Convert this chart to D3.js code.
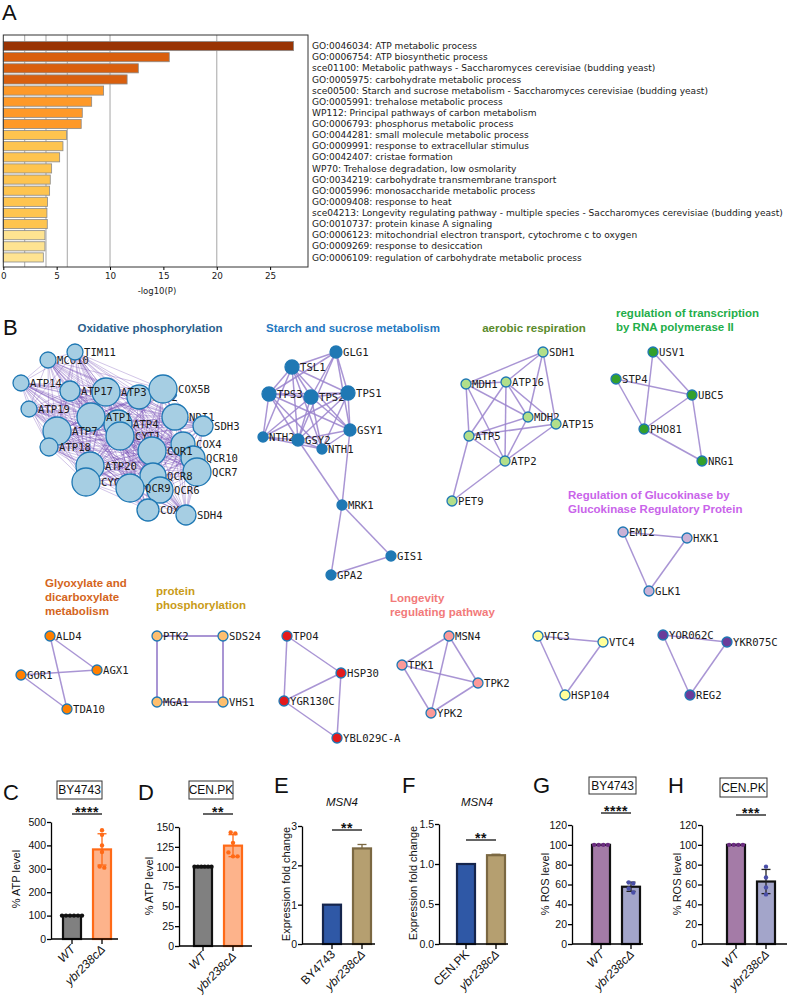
<!DOCTYPE html>
<html>
<head>
<meta charset="utf-8">
<script src="https://cdn.jsdelivr.net/npm/d3@7"></script>
<style>
  body { margin: 0; background: #fff; }
  svg { display: block; }
</style>
</head>
<body>
<div id="container"></div>
<script>
let w = 787;
let h = 997;
let sans = "'Liberation Sans', Arial, sans-serif";
let mono = "'DejaVu Sans Mono', monospace";

// ---------- PANEL A DATA (Metascape enrichment) ----------
let goTerms = [
  "GO:0046034: ATP metabolic process",
  "GO:0006754: ATP biosynthetic process",
  "sce01100: Metabolic pathways - Saccharomyces cerevisiae (budding yeast)",
  "GO:0005975: carbohydrate metabolic process",
  "sce00500: Starch and sucrose metabolism - Saccharomyces cerevisiae (budding yeast)",
  "GO:0005991: trehalose metabolic process",
  "WP112: Principal pathways of carbon metabolism",
  "GO:0006793: phosphorus metabolic process",
  "GO:0044281: small molecule metabolic process",
  "GO:0009991: response to extracellular stimulus",
  "GO:0042407: cristae formation",
  "WP70: Trehalose degradation, low osmolarity",
  "GO:0034219: carbohydrate transmembrane transport",
  "GO:0005996: monosaccharide metabolic process",
  "GO:0009408: response to heat",
  "sce04213: Longevity regulating pathway - multiple species - Saccharomyces cerevisiae (budding yeast)",
  "GO:0010737: protein kinase A signaling",
  "GO:0006123: mitochondrial electron transport, cytochrome c to oxygen",
  "GO:0009269: response to desiccation",
  "GO:0006109: regulation of carbohydrate metabolic process"
];
let goLogP = [27.2, 15.55, 12.65, 11.6, 9.4, 8.28, 7.4, 7.3, 5.93, 5.59,
              5.28, 4.53, 4.4, 4.34, 4.15, 4.09, 4.12, 3.9, 3.9, 3.75];
let pCuts = [2, 4, 6, 10, 20];
let xTicksA = [0, 5, 10, 15, 20, 25];

// ---------- PANEL B DATA (MCODE networks) ----------
let oxphosGenes = ["MCO10","TIM11","ATP14","QCR2","ATP3","ATP17","COX5B","ATP19","NDI1","SDH3",
  "ATP4","CYT1","ATP1","ATP7","ATP18","COX4","QCR10","COR1","QCR7","ATP20","CYC1","QCR8",
  "QCR6","QCR9","COX6","SDH4"];
let starchGenes = ["GLG1","TSL1","TPS3","TPS2","TPS1","GSY1","NTH2","GSY2","NTH1","MRK1","GIS1","GPA2"];
let starchEdges = [
  ["TSL1","GLG1"],["TSL1","TPS3"],["TSL1","TPS2"],["TSL1","TPS1"],["TSL1","GSY1"],["TSL1","NTH2"],
  ["TSL1","GSY2"],["TSL1","NTH1"],["GLG1","TPS3"],["GLG1","TPS2"],["GLG1","TPS1"],["GLG1","GSY1"],
  ["GLG1","GSY2"],["TPS3","TPS2"],["TPS3","TPS1"],["TPS3","NTH2"],["TPS3","GSY2"],["TPS3","NTH1"],
  ["TPS3","GSY1"],["TPS2","TPS1"],["TPS2","NTH2"],["TPS2","GSY2"],["TPS2","NTH1"],["TPS2","GSY1"],
  ["TPS1","GSY1"],["TPS1","NTH2"],["TPS1","GSY2"],["TPS1","NTH1"],["NTH2","GSY2"],["NTH2","NTH1"],
  ["GSY2","NTH1"],["GSY2","GSY1"],["NTH1","GSY1"],["GSY2","MRK1"],["GSY1","MRK1"],["MRK1","GIS1"],
  ["MRK1","GPA2"],["GPA2","GIS1"]
];
let aerobicGenes = ["SDH1","MDH1","ATP16","MDH2","ATP15","ATP5","ATP2","PET9"];
let aerobicEdges = [
  ["MDH1","ATP16"],["MDH1","ATP5"],["MDH1","ATP2"],["MDH1","MDH2"],["MDH1","SDH1"],["ATP16","SDH1"],
  ["ATP16","ATP5"],["ATP16","ATP2"],["ATP16","MDH2"],["ATP16","ATP15"],["SDH1","MDH2"],["SDH1","ATP15"],
  ["ATP5","MDH2"],["ATP5","ATP15"],["ATP5","ATP2"],["ATP2","MDH2"],["ATP2","ATP15"],["ATP5","PET9"],
  ["ATP2","PET9"]
];
let rnaPolGenes = ["USV1","STP4","UBC5","PHO81","NRG1"];
let rnaPolEdges = [["USV1","UBC5"],["USV1","PHO81"],["STP4","UBC5"],["STP4","PHO81"],["UBC5","PHO81"],
  ["UBC5","NRG1"],["PHO81","NRG1"]];
let glkGenes = ["EMI2","HXK1","GLK1"];
let glkEdges = [["EMI2","HXK1"],["EMI2","GLK1"],["HXK1","GLK1"]];
let glyoxGenes = ["ALD4","AGX1","GOR1","TDA10"];
let glyoxEdges = [["ALD4","AGX1"],["ALD4","TDA10"],["GOR1","AGX1"],["GOR1","TDA10"]];
let phosGenes = ["PTK2","SDS24","MGA1","VHS1"];
let phosEdges = [["PTK2","SDS24"],["SDS24","VHS1"],["VHS1","MGA1"],["MGA1","PTK2"]];
let tpoGenes = ["TPO4","HSP30","YGR130C","YBL029C-A"];
let tpoEdges = [["TPO4","HSP30"],["TPO4","YGR130C"],["HSP30","YGR130C"],["HSP30","YBL029C-A"],["YGR130C","YBL029C-A"]];
let longevGenes = ["MSN4","TPK1","TPK2","YPK2"];
let longevEdges = [["MSN4","TPK1"],["MSN4","TPK2"],["MSN4","YPK2"],["TPK1","TPK2"],["TPK1","YPK2"],["TPK2","YPK2"]];
let vtcGenes = ["VTC3","VTC4","HSP104"];
let vtcEdges = [["VTC3","VTC4"],["VTC3","HSP104"],["VTC4","HSP104"]];
let yorGenes = ["YOR062C","YKR075C","REG2"];
let yorEdges = [["YOR062C","YKR075C"],["YOR062C","REG2"],["YKR075C","REG2"]];

// ---------- PANELS C-H DATA ----------
let strains = ["WT", "ybr238cΔ"];
let atpByWT = [100, 100, 100, 100, 100, 100];
let atpByMut = [465, 445, 400, 372, 310, 305];
let atpCenWT = [100, 100, 100, 100, 100, 100];
let atpCenMut = [143, 142, 130, 118, 113, 113];
let msn4ByGroups = ["BY4743", "ybr238cΔ"];
let msn4ByFold = [1.0, 2.43];
let msn4BySd = [0, 0.1];
let msn4CenGroups = ["CEN.PK", "ybr238cΔ"];
let msn4CenFold = [1.0, 1.11];
let msn4CenSd = [0, 0.012];
let rosByWT = [100, 100, 100, 100];
let rosByMut = [62, 61, 56, 52];
let rosCenWT = [100, 100, 100, 100];
let rosCenMut = [78, 67, 57, 50];

// ---------- LAYOUT (network node positions, px) ----------
let oxphosLayout = {
  MCO10:[48,360,8], TIM11:[75,352,8], ATP14:[21,383,8], QCR2:[139,397,12], ATP3:[106,392,14],
  ATP17:[70,391,10], COX5B:[163,389,14], ATP19:[29,409,8], NDI1:[175,417,13], SDH3:[203,426,10],
  ATP4:[118,424,14], CYT1:[120,436,14], ATP1:[91,417,14], ATP7:[57,431,14], ATP18:[49,447,9],
  COX4:[183,444,12], QCR10:[193,458,12], COR1:[152,451,14], QCR7:[197,472,14], ATP20:[90,466,14],
  CYC1:[86,482,14], QCR8:[153,476,13], QCR6:[160,490,13], QCR9:[130,488,14], COX6:[148,510,11],
  SDH4:[186,515,10]
};
let starchLayout = {
  GLG1:[336,352,6], TSL1:[292,367,7], TPS3:[269,394,7], TPS2:[311,397,7], TPS1:[348,393,7],
  GSY1:[350,430,6], NTH2:[263,437,5], GSY2:[298,440,6], NTH1:[322,449,5], MRK1:[342,505,5],
  GIS1:[391,556,5], GPA2:[331,575,5]
};
let aerobicLayout = {
  SDH1:[543,352,5], MDH1:[466,384,5], ATP16:[506,382,5], MDH2:[528,417,5], ATP15:[556,424,5],
  ATP5:[469,436,5], ATP2:[505,461,5], PET9:[452,501,5]
};
let rnaPolLayout = { USV1:[653,352,5], STP4:[616,379,5], UBC5:[692,395,5], PHO81:[644,429,5], NRG1:[702,461,5] };
let glkLayout = { EMI2:[623,532,5], HXK1:[687,538,5], GLK1:[649,591,5] };
let glyoxLayout = { ALD4:[50,636,5], AGX1:[97,670,5], GOR1:[21,675,5], TDA10:[67,709,5] };
let phosLayout = { PTK2:[157,636,5], SDS24:[223,636,5], MGA1:[157,702,5], VHS1:[223,702,5] };
let tpoLayout = { TPO4:[287,636,5], HSP30:[341,673,5], YGR130C:[284,701,5], "YBL029C-A":[337,738,5] };
let longevLayout = { MSN4:[449,636,5], TPK1:[402,665,5], TPK2:[478,683,5], YPK2:[431,713,5] };
let vtcLayout = { VTC3:[538,636,5], VTC4:[603,642,5], HSP104:[565,695,5] };
let yorLayout = { YOR062C:[663,635,5], YKR075C:[727,642,5], REG2:[690,695,5] };

// SVG
let viz = d3.select("#container").append("svg")
    .attr("width", w)
    .attr("height", h)
    .style("background-color", "white")
;

function panelLetter(txt, x, y) {
  viz.append("text").attr("x", x).attr("y", y).text(txt)
    .style("font-family", sans).style("font-size", "22px").attr("fill", "#111");
}

// ================= PANEL A =================
panelLetter("A", 2, 20);

let boxA = { left: 3.3, right: 308, top: 35, bottom: 267 };
let xA = d3.scaleLinear().domain([0, 28.55]).range([boxA.left, boxA.right]);
let yA = d3.scaleBand().domain(goTerms).range([40.5, 263]).paddingInner(0.18).paddingOuter(0.09);
let colorA = d3.scaleThreshold().domain([4, 6, 10, 20])
    .range(["#fee391", "#fec44f", "#fe9929", "#d95f0e", "#993404"]);

viz.selectAll(".grid").data(pCuts).enter()
  .append("line")
    .attr("class", "grid")
    .attr("x1", d => xA(d)).attr("x2", d => xA(d))
    .attr("y1", boxA.top).attr("y2", boxA.bottom)
    .attr("stroke", "#b4b4b4").attr("stroke-width", 1.2)
;
viz.selectAll(".goBar").data(goTerms).enter()
  .append("rect")
    .attr("class", "goBar")
    .attr("x", xA(0))
    .attr("y", d => yA(d))
    .attr("width", (d, i) => xA(goLogP[i]) - xA(0))
    .attr("height", yA.bandwidth())
    .attr("fill", (d, i) => colorA(goLogP[i]))
    .attr("stroke", "#8a8a8a").attr("stroke-width", 0.8)
;
viz.append("rect")
  .attr("x", boxA.left).attr("y", boxA.top)
  .attr("width", boxA.right - boxA.left).attr("height", boxA.bottom - boxA.top)
  .attr("fill", "none").attr("stroke", "#333").attr("stroke-width", 1)
;
let axisA = viz.append("g").attr("transform", `translate(0,${boxA.bottom})`)
  .call(d3.axisBottom(xA).tickValues(xTicksA).tickSize(3).tickSizeOuter(0));
axisA.select(".domain").remove();
axisA.selectAll("text").style("font-family", "'DejaVu Sans', sans-serif").style("font-size", "8.8px").attr("fill", "#222");
viz.append("text").attr("x", 157).attr("y", 294).attr("text-anchor", "middle").text("-log10(P)")
  .style("font-family", "'DejaVu Sans', sans-serif").style("font-size", "8.5px").attr("fill", "#222");

viz.selectAll(".goLabel").data(goTerms).enter()
  .append("text")
    .attr("class", "goLabel")
    .attr("x", 312)
    .attr("y", d => yA(d) + yA.bandwidth() / 2)
    .attr("dy", "0.35em")
    .text(d => d)
    .style("font-family", "'DejaVu Sans', sans-serif").style("font-size", "9.05px").attr("fill", "#1a1a1a")
;

// ================= PANEL B =================
panelLetter("B", 3, 335);

let sxB = d3.scaleIdentity();
let syB = d3.scaleIdentity();

function drawNetwork(genes, edges, layout, fill, edgeStyle) {
  let g = viz.append("g");
  g.selectAll("line").data(edges).enter()
    .append("line")
      .attr("x1", d => sxB(layout[d[0]][0])).attr("y1", d => syB(layout[d[0]][1]))
      .attr("x2", d => sxB(layout[d[1]][0])).attr("y2", d => syB(layout[d[1]][1]))
      .attr("stroke", edgeStyle.color).attr("stroke-width", edgeStyle.width)
      .attr("stroke-opacity", edgeStyle.opacity)
  ;
  let node = g.selectAll(".node").data(genes).enter().append("g").attr("class", "node");
  node.append("circle")
    .attr("cx", d => sxB(layout[d][0])).attr("cy", d => syB(layout[d][1]))
    .attr("r", d => layout[d][2])
    .attr("fill", fill).attr("stroke", "#1f78b4").attr("stroke-width", 1.3);
  node.append("text")
    .attr("x", d => sxB(layout[d][0]) + layout[d][2] + 1)
    .attr("y", d => syB(layout[d][1]))
    .attr("dy", "0.36em")
    .text(d => d)
    .style("font-family", mono).style("font-size", "10.6px").attr("fill", "#1a1a1a");
}

let oxphosEdges = [];
oxphosGenes.forEach(function(a, i) {
  oxphosGenes.forEach(function(b, j) { if (j > i) oxphosEdges.push([a, b]); });
});

let edgeNormal = { color: "#9a82cc", width: 1.5, opacity: 0.85 };
drawNetwork(oxphosGenes, oxphosEdges, oxphosLayout, "#a6cee3", { color: "#6a3fb0", width: 1, opacity: 0.3 });
drawNetwork(starchGenes, starchEdges, starchLayout, "#1f78b4", edgeNormal);
drawNetwork(aerobicGenes, aerobicEdges, aerobicLayout, "#b2df8a", edgeNormal);
drawNetwork(rnaPolGenes, rnaPolEdges, rnaPolLayout, "#33a02c", edgeNormal);
drawNetwork(glkGenes, glkEdges, glkLayout, "#cab2d6", edgeNormal);
drawNetwork(glyoxGenes, glyoxEdges, glyoxLayout, "#ff7f00", edgeNormal);
drawNetwork(phosGenes, phosEdges, phosLayout, "#fdbf6f", { color: "#9a82cc", width: 2, opacity: 0.85 });
drawNetwork(tpoGenes, tpoEdges, tpoLayout, "#e31a1c", edgeNormal);
drawNetwork(longevGenes, longevEdges, longevLayout, "#fb9a99", edgeNormal);
drawNetwork(vtcGenes, vtcEdges, vtcLayout, "#ffff99", edgeNormal);
drawNetwork(yorGenes, yorEdges, yorLayout, "#6a3d9a", edgeNormal);

function netTitle(lines, x, y, color, anchor) {
  let t = viz.append("text").attr("x", x).attr("y", y).attr("text-anchor", anchor || "start")
    .style("font-family", sans).style("font-size", "11.5px").style("font-weight", "bold").attr("fill", color);
  lines.forEach(function(l, i) {
    t.append("tspan").attr("x", x).attr("dy", i == 0 ? 0 : 14).text(l);
  });
}
netTitle(["Oxidative phosphorylation"], 150, 332, "#2b5f8d", "middle");
netTitle(["Starch and sucrose metabolism"], 353, 332, "#1f78c1", "middle");
netTitle(["aerobic respiration"], 534, 332, "#5a8a2c", "middle");
netTitle(["regulation of transcription", "by RNA polymerase II"], 616, 317, "#1fae4a");
netTitle(["Regulation of Glucokinase by", "Glucokinase Regulatory Protein"], 568, 499, "#c964ea");
netTitle(["Glyoxylate and", "dicarboxylate", "metabolism"], 45, 587, "#d4651c");
netTitle(["protein", "phosphorylation"], 156, 595, "#c99b16");
netTitle(["Longevity", "regulating pathway"], 390, 602, "#f27a7a");

// ================= PANELS C-H =================
function dotOffsets(vals, y, spacing) {
  return vals.map(function(v, i) {
    let members = [];
    vals.forEach(function(u, j) { if (Math.abs(y(u) - y(v)) < spacing) members.push(j); });
    let k = members.indexOf(i);
    return (k - (members.length - 1) / 2) * spacing;
  });
}

function barPanel(cfg) {
  let g = viz.append("g");
  let y = d3.scaleLinear().domain(cfg.yDomain).range(cfg.yRange);
  let x = d3.scaleBand().domain(cfg.groups)
      .range([cfg.axisX + cfg.firstCenter - 15, cfg.axisX + cfg.firstCenter + 45])
      .paddingInner(1 / 3).paddingOuter(1 / 6);
  let cx = d => x(d) + x.bandwidth() / 2;
  let means = cfg.points ? cfg.points.map(p => d3.mean(p)) : cfg.means;
  let sds = cfg.points ? cfg.points.map(p => d3.deviation(p) || 0) : cfg.sds;

  g.selectAll(".bar").data(cfg.groups).enter()
    .append("rect")
      .attr("class", "bar")
      .attr("x", d => x(d) + 1)
      .attr("width", x.bandwidth() - 2)
      .attr("y", (d, i) => y(means[i]))
      .attr("height", (d, i) => y(0) - y(means[i]))
      .attr("fill", (d, i) => cfg.fills[i])
      .attr("stroke", (d, i) => cfg.strokes[i])
      .attr("stroke-width", 2.2)
  ;
  // error bars (mean +/- SD)
  cfg.groups.forEach(function(d, i) {
    if (sds[i] <= 0) return;
    let lo = cfg.errBoth ? means[i] - sds[i] : means[i];
    let hi = means[i] + sds[i];
    let col = cfg.errColors[i];
    g.append("line").attr("x1", cx(d)).attr("x2", cx(d)).attr("y1", y(lo)).attr("y2", y(hi))
      .attr("stroke", col).attr("stroke-width", 1.3);
    let caps = cfg.errBoth ? [lo, hi] : [hi];
    caps.forEach(function(c) {
      g.append("line").attr("x1", cx(d) - 4.5).attr("x2", cx(d) + 4.5).attr("y1", y(c)).attr("y2", y(c))
        .attr("stroke", col).attr("stroke-width", 1.3);
    });
  });
  // individual points
  if (cfg.points) {
    cfg.groups.forEach(function(d, i) {
      let offs = dotOffsets(cfg.points[i], y, cfg.dotSpacing[i]);
      g.selectAll(".dot" + i).data(cfg.points[i]).enter()
        .append("circle")
          .attr("cx", (v, j) => cx(d) + offs[j])
          .attr("cy", v => y(v))
          .attr("r", 2.2)
          .attr("fill", cfg.dotColors[i])
      ;
    });
  }
  // y axis
  let yAxisG = g.append("g").attr("transform", `translate(${cfg.axisX},0)`)
    .call(d3.axisLeft(y).tickValues(cfg.yTicks).tickSize(4).tickSizeOuter(0).tickFormat(cfg.tickFmt));
  yAxisG.select(".domain").attr("stroke-width", 1.3);
  yAxisG.selectAll(".tick line").attr("stroke-width", 1.3);
  yAxisG.selectAll("text").style("font-family", sans).style("font-size", "10.5px").attr("fill", "#111").attr("x", -5);
  // x axis
  let xAxisG = g.append("g").attr("transform", `translate(0,${y(0)})`)
    .call(d3.axisBottom(x).tickSize(5).tickSizeOuter(0));
  xAxisG.select(".domain").remove();
  xAxisG.append("line").attr("x1", cfg.axisX).attr("x2", cfg.axisEnd).attr("stroke", "#000").attr("stroke-width", 1.3);
  xAxisG.selectAll(".tick line").attr("stroke-width", 1.3);
  xAxisG.selectAll("text")
    .attr("y", 0).attr("dy", 0)
    .attr("transform", "translate(4,11) rotate(-45)")
    .style("text-anchor", "end")
    .style("font-family", sans).style("font-size", "12px")
    .style("font-style", d => d.startsWith("ybr") || d == "WT" ? "italic" : "normal")
    .attr("fill", "#111");
  // y label
  g.append("text")
    .attr("transform", `translate(${cfg.yLabelX},${cfg.yLabelY}) rotate(-90)`)
    .attr("text-anchor", "middle").text(cfg.yLabel)
    .style("font-family", sans).style("font-size", "11px").attr("fill", "#111");
  // significance bar
  g.append("line").attr("x1", cx(cfg.groups[0])).attr("x2", cx(cfg.groups[1]))
    .attr("y1", cfg.sigY).attr("y2", cfg.sigY).attr("stroke", "#111").attr("stroke-width", 1.3);
  g.append("text").attr("x", (cx(cfg.groups[0]) + cx(cfg.groups[1])) / 2).attr("y", cfg.sigY + 3)
    .attr("text-anchor", "middle").text(cfg.sig)
    .style("font-family", sans).style("font-size", "14px").style("font-weight", "bold")
    .style("letter-spacing", "0.5px").attr("fill", "#111");
}

function strainBox(txt, x, y, bw, bh) {
  viz.append("rect").attr("x", x).attr("y", y).attr("width", bw).attr("height", bh)
    .attr("fill", "none").attr("stroke", "#333").attr("stroke-width", 1);
  viz.append("text").attr("x", x + bw / 2).attr("y", y + bh / 2).attr("dy", "0.36em")
    .attr("text-anchor", "middle").text(txt)
    .style("font-family", sans).style("font-size", "12px").attr("fill", "#111");
}
function geneTitle(txt, x, y) {
  viz.append("text").attr("x", x).attr("y", y).attr("text-anchor", "middle").text(txt)
    .style("font-family", sans).style("font-size", "11.5px").style("font-style", "italic").attr("fill", "#111");
}

let intFmt = d3.format("d");

// C
panelLetter("C", 3, 800);
strainBox("BY4743", 57, 781, 45, 18);
barPanel({
  groups: strains, points: [atpByWT, atpByMut],
  yDomain: [0, 500], yRange: [939, 822], yTicks: [0, 100, 200, 300, 400, 500], tickFmt: intFmt,
  axisX: 51, firstCenter: 21, axisEnd: 118,
  fills: ["#808080", "#fdb38b"], strokes: ["#111", "#ff6a17"], errColors: ["#111", "#ff6a17"],
  dotColors: ["#111", "#ff6a17"], dotSpacing: [4, 4.6], errBoth: true,
  yLabel: "% ATP level", yLabelX: 20, yLabelY: 879, sig: "****", sigY: 814
});

// D
panelLetter("D", 138, 800);
strainBox("CEN.PK", 189, 781, 44, 18);
barPanel({
  groups: strains, points: [atpCenWT, atpCenMut],
  yDomain: [0, 150], yRange: [946, 827], yTicks: [0, 25, 50, 75, 100, 125, 150], tickFmt: intFmt,
  axisX: 179, firstCenter: 24, axisEnd: 252,
  fills: ["#808080", "#fdb38b"], strokes: ["#111", "#ff6a17"], errColors: ["#111", "#ff6a17"],
  dotColors: ["#111", "#ff6a17"], dotSpacing: [3.4, 4.6], errBoth: true,
  yLabel: "% ATP level", yLabelX: 153, yLabelY: 886, sig: "**", sigY: 814
});

// E
panelLetter("E", 274, 793);
geneTitle("MSN4", 342, 806);
barPanel({
  groups: msn4ByGroups, means: msn4ByFold, sds: msn4BySd,
  yDomain: [0, 3], yRange: [944, 826], yTicks: [0, 1, 2, 3], tickFmt: intFmt,
  axisX: 302, firstCenter: 30, axisEnd: 375,
  fills: ["#2f58a6", "#b59f70"], strokes: ["#15254d", "#7b6842"], errColors: ["#15254d", "#7b6842"],
  errBoth: false,
  yLabel: "Expression fold change", yLabelX: 290, yLabelY: 884, sig: "**", sigY: 830
});

// F
panelLetter("F", 402, 793);
geneTitle("MSN4", 477, 806);
barPanel({
  groups: msn4CenGroups, means: msn4CenFold, sds: msn4CenSd,
  yDomain: [0, 1.5], yRange: [944, 824], yTicks: [0, 0.5, 1.0, 1.5], tickFmt: d3.format(".1f"),
  axisX: 439, firstCenter: 27, axisEnd: 508,
  fills: ["#2f58a6", "#b59f70"], strokes: ["#15254d", "#7b6842"], errColors: ["#15254d", "#7b6842"],
  errBoth: false,
  yLabel: "Expression fold change", yLabelX: 417, yLabelY: 883, sig: "**", sigY: 840
});

// G
panelLetter("G", 533, 793);
strainBox("BY4743", 589, 777, 47, 17);
barPanel({
  groups: strains, points: [rosByWT, rosByMut],
  yDomain: [0, 120], yRange: [944, 825], yTicks: [0, 20, 40, 60, 80, 100, 120], tickFmt: intFmt,
  axisX: 572, firstCenter: 29, axisEnd: 643,
  fills: ["#a47ba7", "#a3a5ca"], strokes: ["#111", "#111"], errColors: ["#222", "#222"],
  dotColors: ["#6b2c80", "#4a4fa8"], dotSpacing: [4.6, 4.6], errBoth: true,
  yLabel: "% ROS level", yLabelX: 549, yLabelY: 884, sig: "****", sigY: 813
});

// H
panelLetter("H", 668, 793);
strainBox("CEN.PK", 720, 778, 47, 19);
barPanel({
  groups: strains, points: [rosCenWT, rosCenMut],
  yDomain: [0, 120], yRange: [944, 825], yTicks: [0, 20, 40, 60, 80, 100, 120], tickFmt: intFmt,
  axisX: 702, firstCenter: 34, axisEnd: 787,
  fills: ["#a47ba7", "#a3a5ca"], strokes: ["#111", "#111"], errColors: ["#222", "#222"],
  dotColors: ["#6b2c80", "#4a4fa8"], dotSpacing: [4.6, 4.6], errBoth: true,
  yLabel: "% ROS level", yLabelX: 681, yLabelY: 884, sig: "***", sigY: 815
});
</script>
</body>
</html>
